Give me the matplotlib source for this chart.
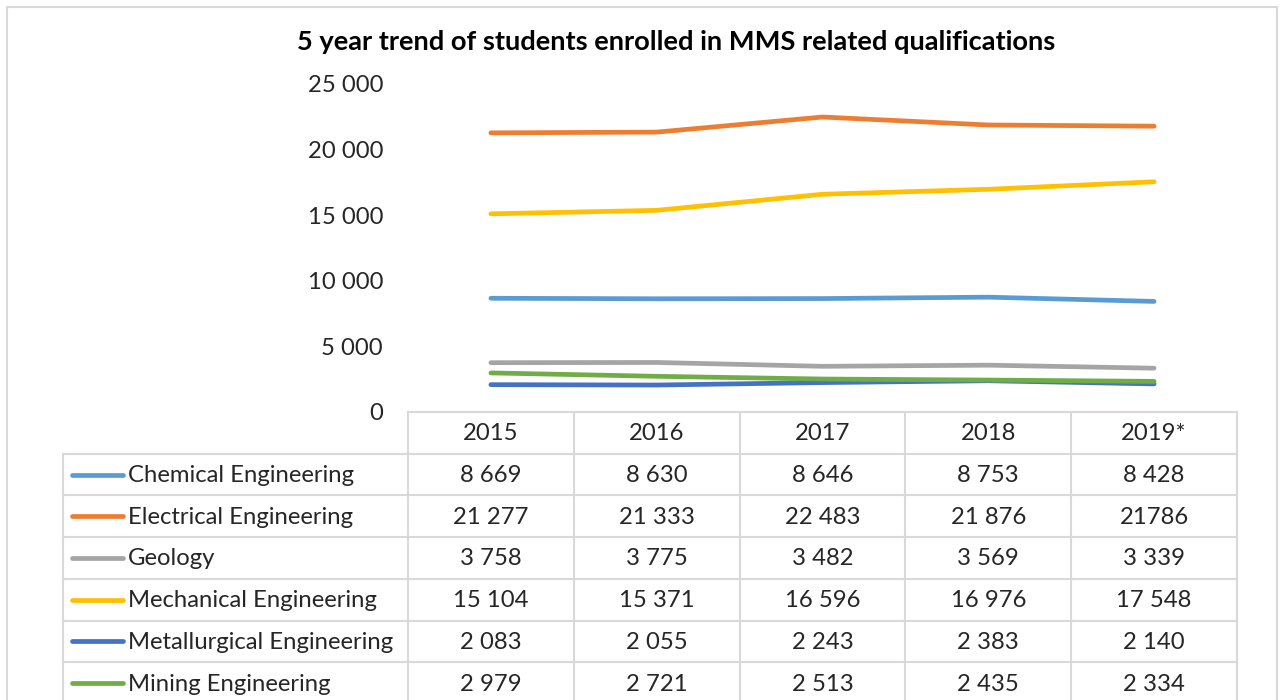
#!/usr/bin/env python3
"""5 year trend of MMS enrolments, line chart with data table below."""

import matplotlib.pyplot as plt
from matplotlib.patches import Rectangle

plt.rcParams['font.family'] = ['Lato', 'DejaVu Sans']

# Data
years = ['2015', '2016', '2017', '2018', '2019*']
series_names = ['Chemical Engineering', 'Electrical Engineering', 'Geology',
                'Mechanical Engineering', 'Metallurgical Engineering',
                'Mining Engineering']
chemical = [8669, 8630, 8646, 8753, 8428]
electrical = [21277, 21333, 22483, 21876, 21786]
geology = [3758, 3775, 3482, 3569, 3339]
mechanical = [15104, 15371, 16596, 16976, 17548]
metallurgical = [2083, 2055, 2243, 2383, 2140]
mining = [2979, 2721, 2513, 2435, 2334]
series_values = [chemical, electrical, geology, mechanical, metallurgical, mining]
# the source table prints this one cell without thousands separator
no_sep_cells = {(1, 4)}

colors = ['#5B9BD5', '#ED7D31', '#A5A5A5', '#FFC000', '#4472C4', '#70AD47']
grid_col = '#D9D9D9'
txt_col = '#262626'
fs = 17.2

W, H = 1282, 700
fig = plt.figure(figsize=(W / 100, H / 100), dpi=100)


def fx(px):
    return px / W


def fy(py):
    return 1 - py / H


# outer chart border
fig.patches.append(Rectangle((fx(7), fy(760)), fx(1277) - fx(7), fy(7) - fy(760),
                             transform=fig.transFigure, fill=False,
                             edgecolor=grid_col, lw=1.5))

fig.text(fx(676), fy(42), '5 year trend of students enrolled in MMS related qualifications',
         ha='center', va='center', fontsize=19.6, fontweight='bold')

# --- line plot ---
x0, x1 = 408, 1237
y_top, y_zero = 84, 412
ax = fig.add_axes([fx(x0), fy(y_zero), fx(x1) - fx(x0), fy(y_top) - fy(y_zero)])
for vals, c in zip(series_values, colors):
    ax.plot(range(len(years)), vals, color=c, lw=3.4, solid_capstyle='round')
ax.set_xlim(-0.5, len(years) - 0.5)
ax.set_ylim(0, 25000)
ax.set_yticks(range(0, 25001, 5000))
ax.set_yticklabels([f'{v:,}'.replace(',', ' ') for v in range(0, 25001, 5000)],
                   fontsize=fs, color=txt_col)
ax.tick_params(axis='y', length=0, pad=18)
ax.set_xticks([])
for s in ax.spines.values():
    s.set_visible(False)
ax.patch.set_alpha(0)

# --- data table ---
tab_left = 63
row_h = 41.7
col_w = (x1 - x0) / len(years)
tax = fig.add_axes([0, 0, 1, 1])
tax.set_xlim(0, W)
tax.set_ylim(H, 0)
tax.axis('off')

n_rows = len(series_names)
bottom = y_zero + row_h * (n_rows + 1)
tax.plot([x0, x1], [y_zero, y_zero], color=grid_col, lw=1.5)
for j in range(len(years) + 1):
    tax.plot([x0 + j * col_w] * 2, [y_zero, bottom], color=grid_col, lw=1.5)
tax.plot([tab_left, tab_left], [y_zero + row_h, bottom], color=grid_col, lw=1.5)
for i in range(n_rows + 1):
    yy = y_zero + row_h * (i + 1)
    tax.plot([tab_left, x1], [yy, yy], color=grid_col, lw=1.5)

for j, yr in enumerate(years):
    tax.text(x0 + (j + 0.5) * col_w, y_zero + row_h / 2 + 1, yr,
             ha='center', va='center', fontsize=fs, color=txt_col)

for i, (name, vals, c) in enumerate(zip(series_names, series_values, colors)):
    yc = y_zero + row_h * (i + 1.5)
    tax.plot([72, 123], [yc, yc], color=c, lw=3.4, solid_capstyle='round')
    tax.text(128, yc + 1, name, ha='left', va='center', fontsize=fs, color=txt_col)
    for j, v in enumerate(vals):
        label = str(v) if (i, j) in no_sep_cells else f'{v:,}'.replace(',', ' ')
        tax.text(x0 + (j + 0.5) * col_w, yc + 1, label,
                 ha='center', va='center', fontsize=fs, color=txt_col)

plt.savefig('out.png', dpi=100, facecolor='white')
plt.close()
